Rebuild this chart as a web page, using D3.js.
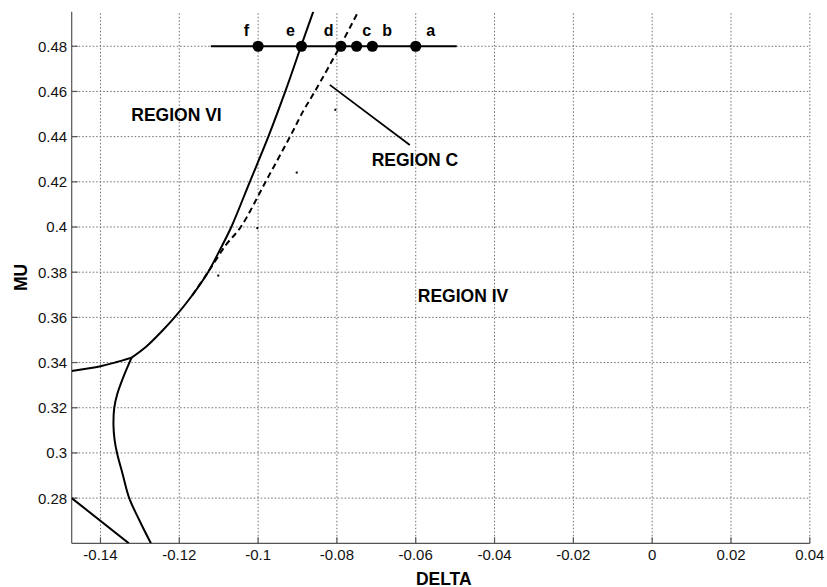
<!DOCTYPE html>
<html>
<head>
<meta charset="utf-8">
<script src="https://cdn.jsdelivr.net/npm/d3@7"></script>
<style>
  body { margin: 0; background: #fff; }
  svg { display: block; }
</style>
</head>
<body>
<svg id="chart" width="827" height="587"></svg>
<script>
// Axis ticks and their labels
const xTicks = [-0.14, -0.12, -0.10, -0.08, -0.06, -0.04, -0.02, 0, 0.02, 0.04];
const xTickLabels = ["-0.14", "-0.12", "-0.1", "-0.08", "-0.06", "-0.04", "-0.02", "0", "0.02", "0.04"];
const yTicks = [0.28, 0.30, 0.32, 0.34, 0.36, 0.38, 0.40, 0.42, 0.44, 0.46, 0.48];
const yTickLabels = ["0.28", "0.3", "0.32", "0.34", "0.36", "0.38", "0.4", "0.42", "0.44", "0.46", "0.48"];

// Boundary curves, [delta, mu]
const upperBranch = [
  [-0.0860, 0.4953], [-0.0891, 0.4800], [-0.0931, 0.4600], [-0.0974, 0.4400],
  [-0.1021, 0.4200], [-0.1068, 0.4000], [-0.1096, 0.3902], [-0.1127, 0.3800],
  [-0.1167, 0.3698], [-0.1212, 0.3600], [-0.1243, 0.3541], [-0.1285, 0.3469],
  [-0.1321, 0.3422]
];
const leftBranch = [
  [-0.1321, 0.3422], [-0.1363, 0.3400], [-0.1400, 0.3384], [-0.1473, 0.3363]
];
const lowerBranch = [
  [-0.1321, 0.3422], [-0.1342, 0.3336], [-0.1357, 0.3263], [-0.1365, 0.3200],
  [-0.1367, 0.3122], [-0.1364, 0.3056], [-0.1358, 0.3000], [-0.1344, 0.2908],
  [-0.1327, 0.2800], [-0.1301, 0.2701], [-0.1272, 0.2600]
];
const straightBranch = [[-0.1473, 0.2800], [-0.1328, 0.2600]];
const dashedBranch = [
  [-0.1167, 0.3698], [-0.1127, 0.3800], [-0.1082, 0.3920], [-0.1044, 0.4000],
  [-0.0981, 0.4200], [-0.0919, 0.4400], [-0.0884, 0.4518], [-0.0856, 0.4600],
  [-0.0792, 0.4800], [-0.0746, 0.4953]
];
const strayPoints = [
  [-0.0804, 0.4519], [-0.0902, 0.4241], [-0.1002, 0.3995], [-0.1101, 0.3785]
];

// Sample points along MU = 0.48
const sampleNames = ["f", "e", "d", "c", "b", "a"];
const sampleDelta = [-0.100, -0.089, -0.079, -0.075, -0.071, -0.060];
const sampleMu = 0.48;
const sampleSpan = [-0.112, -0.0496];

// Region annotations
const regionNames = ["REGION VI", "REGION C", "REGION IV"];
const regionDelta = [-0.1207, -0.0602, -0.0480];
const regionMu = [0.4496, 0.4296, 0.3694];
const pointer = [[-0.0818, 0.4629], [-0.0615, 0.4363]];

// ---- layout ----
const W = 827, H = 587;
const margin = { left: 71.7, right: 17.2, top: 11.7, bottom: 43.7 };
const x = d3.scaleLinear().domain([-0.1473, 0.04]).range([margin.left, W - margin.right]);
const y = d3.scaleLinear().domain([0.26, 0.4953]).range([H - margin.bottom, margin.top]);
const x0 = x.range()[0], x1 = x.range()[1];
const yb = y.range()[0], yt = y.range()[1];

const svg = d3.select("#chart");
const font = "'Liberation Sans', Arial, sans-serif";

svg.append("defs").append("clipPath").attr("id", "plot")
  .append("rect").attr("x", x0).attr("y", yt).attr("width", x1 - x0).attr("height", yb - yt);

// grid
const grid = svg.append("g").attr("stroke", "#6e6e6e").attr("stroke-width", 1)
  .attr("stroke-dasharray", "1.5,2").attr("fill", "none");
grid.selectAll(".gx").data(xTicks).join("line")
  .attr("x1", d => x(d)).attr("x2", d => x(d)).attr("y1", yb).attr("y2", yt);
grid.selectAll(".gy").data(yTicks).join("line")
  .attr("x1", x0).attr("x2", x1).attr("y1", d => y(d)).attr("y2", d => y(d));

// axes and inward ticks
const ax = svg.append("g").attr("stroke", "#555").attr("stroke-width", 1.2);
ax.append("line").attr("x1", x0).attr("x2", x0).attr("y1", yt).attr("y2", yb);
ax.append("line").attr("x1", x0).attr("x2", x1).attr("y1", yb).attr("y2", yb);
ax.selectAll(".tx").data(xTicks).join("line")
  .attr("x1", d => x(d)).attr("x2", d => x(d)).attr("y1", yb).attr("y2", yb - 6);
ax.selectAll(".ty").data(yTicks).join("line")
  .attr("x1", x0).attr("x2", x0 + 6).attr("y1", d => y(d)).attr("y2", d => y(d));

// tick labels
svg.append("g").selectAll("text").data(xTicks).join("text")
  .attr("x", d => x(d)).attr("y", yb + 16.5)
  .attr("text-anchor", "middle").attr("font-family", font).attr("font-size", 15).attr("fill", "#111")
  .text((d, i) => xTickLabels[i]);
svg.append("g").selectAll("text").data(yTicks).join("text")
  .attr("x", x0 - 4.5).attr("y", d => y(d)).attr("dy", "0.36em")
  .attr("text-anchor", "end").attr("font-family", font).attr("font-size", 15).attr("fill", "#111")
  .text((d, i) => yTickLabels[i]);

// axis titles
svg.append("text").attr("x", (x0 + x1) / 2 + 3).attr("y", 584.5)
  .attr("text-anchor", "middle").attr("font-family", font).attr("font-weight", "bold")
  .attr("font-size", 17.5).text("DELTA");
svg.append("text").attr("transform", `translate(26.6,${(yt + yb) / 2}) rotate(-90)`)
  .attr("text-anchor", "middle").attr("font-family", font).attr("font-weight", "bold")
  .attr("font-size", 17.5).text("MU");

// curves
const plot = svg.append("g").attr("clip-path", "url(#plot)");
const smooth = d3.line().x(d => x(d[0])).y(d => y(d[1])).curve(d3.curveCatmullRom.alpha(0.5));
const straight = d3.line().x(d => x(d[0])).y(d => y(d[1]));

[upperBranch, leftBranch, lowerBranch].forEach(b => {
  plot.append("path").attr("d", smooth(b)).attr("fill", "none")
    .attr("stroke", "#000").attr("stroke-width", 2);
});
plot.append("path").attr("d", straight(straightBranch)).attr("fill", "none")
  .attr("stroke", "#000").attr("stroke-width", 2);
plot.append("path").attr("d", smooth(dashedBranch)).attr("fill", "none")
  .attr("stroke", "#000").attr("stroke-width", 2).attr("stroke-dasharray", "6,4");

plot.selectAll(".stray").data(strayPoints).join("rect")
  .attr("x", d => x(d[0]) - 1).attr("y", d => y(d[1]) - 1)
  .attr("width", 2).attr("height", 2).attr("fill", "#000");

// sample line with marked points
plot.append("line")
  .attr("x1", x(sampleSpan[0])).attr("x2", x(sampleSpan[1]))
  .attr("y1", y(sampleMu)).attr("y2", y(sampleMu))
  .attr("stroke", "#000").attr("stroke-width", 2);
plot.selectAll(".pt").data(sampleDelta).join("circle")
  .attr("cx", d => x(d)).attr("cy", y(sampleMu)).attr("r", 5.6).attr("fill", "#000");

const labelShift = [-11.6, -11, -12.3, 10, 14.7, 15];
svg.append("g").selectAll("text").data(sampleDelta).join("text")
  .attr("x", (d, i) => x(d) + labelShift[i]).attr("y", y(sampleMu) - 9.8)
  .attr("text-anchor", "middle").attr("font-family", font).attr("font-weight", "bold")
  .attr("font-size", 16).text((d, i) => sampleNames[i]);

// region annotations
svg.append("g").selectAll("text").data(regionNames).join("text")
  .attr("x", (d, i) => x(regionDelta[i])).attr("y", (d, i) => y(regionMu[i])).attr("dy", "0.36em")
  .attr("text-anchor", "middle").attr("font-family", font).attr("font-weight", "bold")
  .attr("font-size", 17.5).text(d => d);
svg.append("line")
  .attr("x1", x(pointer[0][0])).attr("y1", y(pointer[0][1]))
  .attr("x2", x(pointer[1][0])).attr("y2", y(pointer[1][1]))
  .attr("stroke", "#000").attr("stroke-width", 1.8);
</script>
</body>
</html>
